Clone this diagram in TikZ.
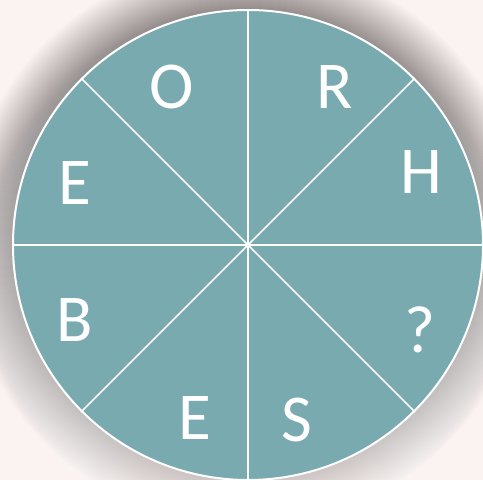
\documentclass[tikz,border=0pt]{standalone}
\usepackage{fontspec}
\setmainfont{Carlito}
\usepackage{tikz}
\definecolor{wheelteal}{HTML}{79AAAF}
\definecolor{paper}{HTML}{FBF3F2}
\definecolor{shade}{HTML}{6E5A5A}
\tikzset{
  wheel/.style={circle, draw=white, line width=2pt, fill=wheelteal,
    minimum size=470pt, inner sep=0pt},
  spoke/.style={draw=white, line width=1.6pt},
  letter/.style={text=white, font=\fontsize{67}{67}\selectfont,
    inner sep=0pt, anchor=center},
}
\begin{document}
\begin{tikzpicture}[x=1pt, y=1pt]
\fill[paper] (0,0) rectangle (483,480);
\useasboundingbox (0,0) rectangle (483,480);
% soft shadow round the wheel
\foreach \r in {1,...,50}
  \fill[shade, opacity=0.0033] (246,237) circle (234+\r);
\node[wheel] (wh) at (248,235) {};
\foreach \a in {0,45,...,315}
  \draw[spoke] (wh.center) -- (wh.\a);
% letters
\node[letter] (lO) at (172,393) {O};
\node[letter] (lR) at (335,393) {R};
\node[letter] (lH) at (421,308) {H};
\node[letter] (lQ) at (420,150) {?};
\node[letter] (lS) at (297,60) {S};
\node[letter] (lE2) at (195,62) {E};
\node[letter] (lB) at (75,160) {B};
\node[letter] (lE1) at (75,297) {E};
\end{tikzpicture}
\end{document}
